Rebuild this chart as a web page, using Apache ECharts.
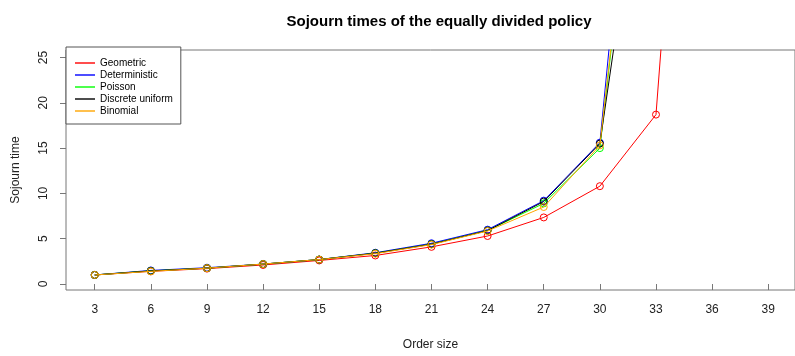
<!DOCTYPE html>
<html><head><meta charset="utf-8">
<script src="https://cdn.jsdelivr.net/npm/echarts@6/dist/echarts.min.js"></script>
<style>html,body{margin:0;padding:0;background:#fff}#c{width:795px;height:356px}</style>
</head><body><div id="c"></div>
<script>
const orderSizes = [3, 6, 9, 12, 15, 18, 21, 24, 27, 30, 33, 36];
const geometric = [1.0, 1.4, 1.7, 2.1, 2.6, 3.15, 4.1, 5.3, 7.35, 10.8, 18.7, 100];
const deterministic = [1.0, 1.5, 1.8, 2.2, 2.7, 3.45, 4.5, 6.0, 9.2, 15.6, 79];
const poisson = [1.0, 1.45, 1.75, 2.2, 2.7, 3.4, 4.4, 5.9, 8.9, 15.0, 69];
const discreteUniform = [1.0, 1.45, 1.75, 2.2, 2.7, 3.4, 4.4, 5.9, 9.1, 15.5, 58];
const binomial = [1.0, 1.4, 1.75, 2.2, 2.7, 3.35, 4.35, 5.85, 8.5, 15.3, 70];
const xTicks = [3, 6, 9, 12, 15, 18, 21, 24, 27, 30, 33, 36, 39];
const yTicks = [0, 5, 10, 15, 20, 25];

const names = ['Geometric', 'Deterministic', 'Poisson', 'Discrete uniform', 'Binomial'];
const colors = ['#ff0000', '#0000ff', '#00ff00', '#000000', '#ffa500'];
const values = [geometric, deterministic, poisson, discreteUniform, binomial];

const FONT = '"Liberation Sans", Arial, sans-serif';
const chart = echarts.init(document.getElementById('c'), null, {renderer: 'canvas'});
const series = names.map((n, i) => ({
  name: n,
  type: 'line',
  data: values[i].map((v, k) => [orderSizes[k], v]),
  symbol: 'circle',
  symbolSize: 7,
  showSymbol: true,
  clip: true,
  animation: false,
  lineStyle: {color: colors[i], width: 1},
  itemStyle: {color: 'rgba(0,0,0,0)', borderColor: colors[i], borderWidth: 1},
  emphasis: {disabled: true},
  z: 2 + i
}));

chart.setOption({
  animation: false,
  backgroundColor: '#fff',
  title: {
    text: 'Sojourn times of the equally divided policy',
    left: 434, top: 9, textAlign: 'center',
    textStyle: {fontFamily: FONT, fontSize: 15, fontWeight: 'bold', color: '#000'}
  },
  legend: {
    orient: 'vertical', left: 66, top: 47,
    data: names.map((n, i) => ({name: n, itemStyle: {color: colors[i], borderWidth: 0}})),
    icon: 'rect', itemWidth: 20, itemHeight: 1.4, itemGap: 0,
    padding: [10, 8, 7, 9],
    borderColor: '#555', borderWidth: 1, backgroundColor: '#fff',
    selectedMode: false,
    textStyle: {fontFamily: FONT, fontSize: 10, color: '#000', lineHeight: 12}
  },
  grid: {left: 66, top: 50, width: 736, height: 240, show: true, borderColor: '#777', borderWidth: 1, containLabel: false},
  xAxis: {
    type: 'value', min: 1.465, max: 40.43,
    name: 'Order size', nameLocation: 'middle', nameGap: 49,
    nameTextStyle: {fontFamily: FONT, fontSize: 12, color: '#222'},
    axisLine: {show: false},
    axisTick: {show: true, length: 6, lineStyle: {color: '#777'}, customValues: xTicks},
    axisLabel: {fontFamily: FONT, fontSize: 12, color: '#222', margin: 14, customValues: xTicks},
    splitLine: {show: false}
  },
  yAxis: {
    type: 'value', min: -0.66, max: 25.83,
    name: 'Sojourn time', nameLocation: 'middle', nameGap: 44,
    nameTextStyle: {fontFamily: FONT, fontSize: 12, color: '#222'},
    axisLine: {show: false},
    axisTick: {show: true, length: 6, lineStyle: {color: '#777'}, customValues: yTicks},
    axisLabel: {fontFamily: FONT, fontSize: 12, color: '#222', margin: 16, rotate: 90, customValues: yTicks},
    splitLine: {show: false}
  },
  series: series
});
</script></body></html>
